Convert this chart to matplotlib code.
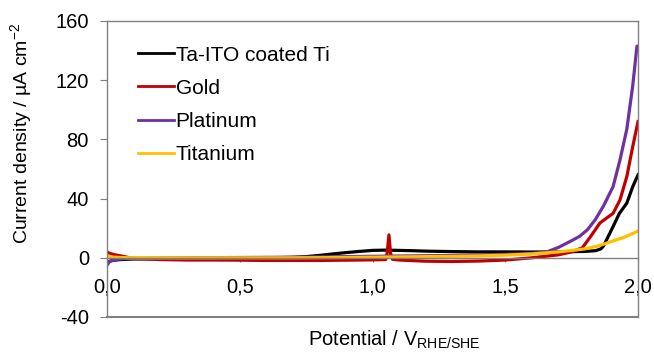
import numpy as np
import matplotlib
matplotlib.use('Agg')
import matplotlib.pyplot as plt

plt.rcParams['font.family'] = ['Liberation Sans', 'DejaVu Sans']
plt.rcParams['axes.unicode_minus'] = False
plt.rcParams['mathtext.fontset'] = 'custom'
plt.rcParams['mathtext.rm'] = 'Liberation Sans'

# linear sweep voltammetry, current density in uA/cm2
v_ito = [0.00, 0.02, 0.05, 0.10, 0.20, 0.30, 0.40, 0.50, 0.60, 0.70, 0.75, 0.80, 0.85, 0.90, 0.95, 1.00,
         1.05, 1.10, 1.15, 1.20, 1.30, 1.40, 1.50, 1.60, 1.70, 1.80, 1.84, 1.86, 1.87, 1.895, 1.93, 1.958, 1.98, 2.00]
i_ito = [-3.0, -1.8, -1.2, -0.8, -0.5, -0.4, -0.3, -0.2, 0.0, 0.3, 0.8, 1.6, 2.6, 3.5, 4.3, 5.0,
         5.2, 5.0, 4.8, 4.5, 4.2, 4.0, 4.0, 3.9, 4.0, 4.3, 4.8, 6.0, 8.0, 17.0, 30.0, 37.0, 48.0, 56.0]

v_gold = [0.00, 0.01, 0.03, 0.06, 0.10, 0.20, 0.30, 0.40, 0.50, 0.60, 0.70, 0.80, 0.90, 1.00, 1.05, 1.055,
          1.062, 1.068, 1.075, 1.10, 1.20, 1.30, 1.40, 1.50, 1.60, 1.70, 1.75, 1.79, 1.82, 1.857, 1.906,
          1.932, 1.958, 1.98, 2.00]
i_gold = [4.0, 3.0, 2.0, 1.0, -0.5, -1.2, -1.5, -1.5, -1.6, -1.8, -1.8, -1.8, -1.6, -1.4, -1.2, 3.0,
          15.5, 3.0, -1.0, -1.5, -2.3, -2.5, -2.2, -1.5, 0.0, 2.0, 4.0, 6.7, 14.0, 23.6, 30.0,
          39.0, 55.0, 75.0, 92.0]

v_pt = [0.00, 0.01, 0.03, 0.06, 0.10, 0.30, 0.50, 0.70, 0.90, 1.10, 1.30, 1.50, 1.60, 1.657, 1.70, 1.744,
        1.78, 1.81, 1.84, 1.87, 1.906, 1.932, 1.958, 1.98, 1.996, 2.00]
i_pt = [-5.0, -2.5, -1.2, -0.6, -0.3, 0.0, 0.2, 0.4, 0.8, 1.2, 1.6, 2.3, 3.0, 4.0, 7.0, 11.0,
        14.5, 19.0, 26.0, 35.0, 48.0, 66.0, 87.0, 116.0, 143.0, 143.0]

v_ti = [0.00, 0.02, 0.05, 0.10, 0.30, 0.50, 0.70, 0.90, 1.00, 1.10, 1.20, 1.30, 1.40, 1.50, 1.60, 1.70,
        1.80, 1.85, 1.90, 1.95, 2.00]
i_ti = [1.5, 0.5, 0.2, 0.0, 0.0, 0.0, 0.0, 0.2, 0.4, 0.6, 0.8, 1.0, 1.3, 1.8, 2.6, 4.0,
        6.0, 8.0, 11.0, 14.0, 18.0]

labels = ['Ta-ITO coated Ti', 'Gold', 'Platinum', 'Titanium']
colors = ['#000000', '#C00000', '#7030A0', '#FFC000']
series = [(v_ito, i_ito), (v_gold, i_gold), (v_pt, i_pt), (v_ti, i_ti)]

fig = plt.figure(figsize=(6.54, 3.56), dpi=100)
ax = fig.add_axes([107/654, 1-317/356, (638-107)/654, (317-21)/356])

grey = '#808080'
for (v, i), c, lab in zip(series, colors, labels):
    ax.plot(v, i, color=c, lw=2.3, label=lab, solid_joinstyle='round')

ax.set_xlim(0, 2.0)
ax.set_ylim(-40, 160)
ax.set_yticks([-40, 0, 40, 80, 120, 160])
ax.set_xticks([0, 0.5, 1.0, 1.5, 2.0])
ax.set_xticklabels(['0,0', '0,5', '1,0', '1,5', '2,0'])

for s in ['left', 'top', 'right', 'bottom']:
    ax.spines[s].set_color(grey)
    ax.spines[s].set_linewidth(1.0)
ax.spines['bottom'].set_position(('data', 0))
ax.axhline(-40, color=grey, lw=1.5, clip_on=False)
ax.tick_params(axis='y', direction='out', length=5, color=grey, labelsize=14.5, pad=8)
ax.tick_params(axis='x', direction='out', length=3, color=grey, labelsize=14.5, pad=11)

fig.text(22/654, 1-133/356, 'Current density / µA cm$^{-2}$', fontsize=14, rotation=90,
         ha='center', va='center')
fig.text(394/654, 1-340/356, 'Potential / V$_{\\mathrm{RHE/SHE}}$', fontsize=14.5, ha='center', va='center')

leg = ax.legend(loc='upper left', frameon=False, fontsize=15, handlelength=1.7, handletextpad=0.1,
                labelspacing=0.68, bbox_to_anchor=(0.043, 0.945), borderaxespad=0.0)
for h in leg.get_lines():
    h.set_linewidth(2.0)

fig.savefig('out.png', dpi=100)
